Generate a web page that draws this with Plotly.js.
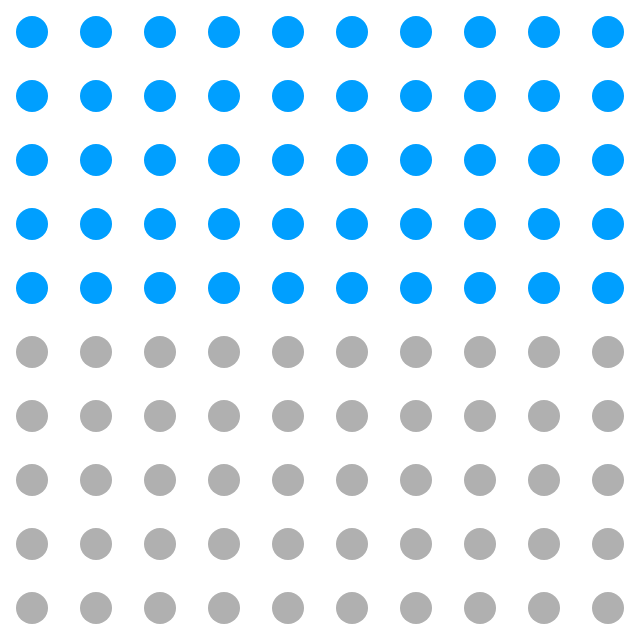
<!DOCTYPE html>
<html>
<head>
<meta charset="utf-8">
<script src="https://cdn.plot.ly/plotly-3.0.1.min.js"></script>
<style>html,body{margin:0;padding:0;background:#fff;}#chart{width:640px;height:640px;}</style>
</head>
<body>
<div id="chart"></div>
<script>
const categories = ["Filled", "Remaining"];
const counts = [50, 50];
const colors = ["#009FFF", "#B0B0B0"];
const gridCols = 10;
const gridRows = 10;

const traces = [];
let idx = 0;
categories.forEach((cat, c) => {
  const xs = [], ys = [];
  for (let k = 0; k < counts[c]; k++) {
    xs.push(idx % gridCols + 0.5);
    ys.push(Math.floor(idx / gridCols) + 0.5);
    idx++;
  }
  traces.push({
    type: "scatter", mode: "markers", name: cat, x: xs, y: ys,
    marker: {symbol: "circle", size: 32, color: colors[c], line: {width: 0}},
    hoverinfo: "skip"
  });
});

Plotly.newPlot("chart", traces, {
  width: 640, height: 640,
  margin: {l: 0, r: 0, t: 0, b: 0},
  paper_bgcolor: "#fff", plot_bgcolor: "#fff",
  showlegend: false,
  xaxis: {range: [0, gridCols], visible: false, fixedrange: true},
  yaxis: {range: [gridRows, 0], visible: false, fixedrange: true}
}, {staticPlot: true});
</script>
</body>
</html>
